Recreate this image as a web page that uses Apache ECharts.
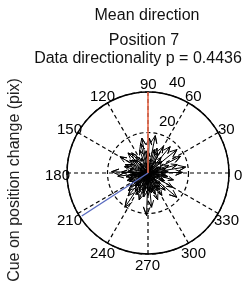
<!DOCTYPE html>
<html>
<head>
<meta charset="utf-8">
<script src="https://cdn.jsdelivr.net/npm/echarts@6/dist/echarts.min.js"></script>
<style>
  html, body { margin: 0; padding: 0; background: #fff; }
  #main { width: 248px; height: 285px; }
</style>
</head>
<body>
<div id="main"></div>
<script>
// compass plot data (angle in degrees, length in pix)
var arrowAngle = [100, 88, 79, 50, 39, 27, 9, 129, 268, 236, 320, 178, 150, 135, 60, 290, 252, 345, 222, 104,
  70, 16, 1, 186, 160, 229, 276, 302, 330, 200,
  5, 20, 40, 50, 65, 75, 88, 95, 110, 125, 135, 145, 155, 165, 175, 190, 195, 205, 215, 225,
  235, 245, 255, 260, 270, 280, 285, 295, 305, 310, 320, 335, 350, 355,
  10, 30, 55, 80, 100, 130, 160, 180, 200, 210, 240, 265, 300, 325, 345,
  2, 14, 24, 44, 58, 92, 114, 140, 168, 178, 184, 192, 212, 232, 248, 262, 282, 312, 338, 352,
  198, 218, 228, 243, 257, 273, 288, 298, 315, 187];
var arrowLen = [17.5, 17.3, 18.8, 17, 18.4, 18, 18.8, 12.8, 21, 20.4, 18.6, 18, 16, 14, 15, 14, 14, 13, 13, 15,
  13, 15, 17, 15, 12, 15, 17, 13, 14, 11,
  10, 11, 9, 10, 11, 12, 10, 11, 12, 10, 9, 11, 10, 12, 10, 11, 9, 10, 8, 9,
  11, 10, 9, 12, 11, 10, 9, 8, 10, 9, 8, 9, 10, 8,
  5, 6, 4, 7, 5, 6, 4, 7, 5, 6, 4, 6, 5, 4, 6,
  8, 9, 7, 8, 7, 9, 8, 10, 9, 13, 8, 7, 9, 8, 7, 8, 9, 7, 8, 9,
  10, 11, 9, 12, 10, 9, 11, 10, 12, 9];
var meanDirection = [[0, 90], [40, 90]];
var secondDirection = [[0, 213], [39, 213]];
var angleTicks = [0, 30, 60, 90, 120, 150, 180, 210, 240, 270, 300, 330];
var rhoTicks = [20, 40];

var FONT = '"Liberation Sans", Arial, sans-serif';

var chart = echarts.init(document.getElementById('main'), null, { renderer: 'canvas' });

function renderArrow(params, api) {
  var ang = api.value(1);
  var o = api.coord([0, ang]);
  var t = api.coord([api.value(0), ang]);
  var dx = t[0] - o[0], dy = t[1] - o[1];
  var bx = t[0] - 0.2 * dx, by = t[1] - 0.2 * dy;
  var px = -dy * 0.08, py = dx * 0.08;
  return {
    type: 'polyline',
    shape: { points: [o, t, [bx + px, by + py], t, [bx - px, by - py]] },
    style: { stroke: '#000', fill: null, lineWidth: 1 }
  };
}

// snap label text to whole pixels so it renders crisp
function snapLabel(params) {
  var r = params.labelRect;
  return { x: Math.round(r.x), y: Math.round(r.y), align: 'left', verticalAlign: 'top' };
}

chart.setOption({
  animation: false,
  polar: { center: [148, 173], radius: 81 },
  angleAxis: {
    type: 'value', min: 0, max: 360, interval: 30,
    startAngle: 0, clockwise: false,
    axisLine: { lineStyle: { color: '#000', width: 1.5 } },
    axisTick: { show: false },
    axisLabel: { show: false },
    splitLine: { show: true, lineStyle: { color: '#000', type: [4, 3], width: 1.2 } }
  },
  radiusAxis: {
    type: 'value', min: 0, max: 40, interval: 20,
    axisLine: { show: false },
    axisTick: { show: false },
    axisLabel: { show: false },
    splitLine: { show: true, lineStyle: { color: '#000', type: [4, 3], width: 1.2 } }
  },
  graphic: [
    { type: 'text', x: 147, y: 16, style: { text: 'Mean direction', font: '16px ' + FONT, fill: '#111', align: 'center', verticalAlign: 'middle' } },
    { type: 'text', x: 144, y: 41, style: { text: 'Position 7', font: '16px ' + FONT, fill: '#111', align: 'center', verticalAlign: 'middle' } },
    { type: 'text', x: 138, y: 59, style: { text: 'Data directionality p = 0.4436', font: '16px ' + FONT, fill: '#111', align: 'center', verticalAlign: 'middle' } },
    { type: 'text', x: 15, y: 180, rotation: Math.PI / 2, style: { text: 'Cue on position change (pix)', font: '16px ' + FONT, fill: '#222', align: 'center', verticalAlign: 'middle' } }
  ],
  series: [
    {
      type: 'custom', coordinateSystem: 'polar',
      renderItem: renderArrow,
      data: arrowLen.map(function (r, i) { return [r, arrowAngle[i]]; }),
      z: 3
    },
    {
      type: 'line', coordinateSystem: 'polar', data: meanDirection,
      symbol: 'none', lineStyle: { color: '#ea6a4c', width: 1.6 }, z: 4
    },
    {
      type: 'line', coordinateSystem: 'polar', data: secondDirection,
      symbol: 'none', lineStyle: { color: '#5a6cc0', width: 1.4 }, z: 4
    },
    {
      // angle tick labels, centred just outside the outer ring
      type: 'scatter', coordinateSystem: 'polar', clip: false, silent: true,
      data: angleTicks.map(function (a) { return [44.5, a]; }),
      symbolSize: 1, itemStyle: { color: 'transparent', opacity: 1 },
      label: {
        show: true, position: 'inside', offset: [0, 2],
        color: '#000', fontSize: 15, fontFamily: FONT,
        formatter: function (p) { return String(p.value[1]); }
      },
      labelLayout: snapLabel,
      z: 5
    },
    {
      // rho tick labels
      type: 'scatter', coordinateSystem: 'polar', clip: false, silent: true,
      data: rhoTicks.map(function (r) { return [r, 76]; }),
      symbolSize: 1, itemStyle: { color: 'transparent', opacity: 1 },
      label: {
        show: true, position: [0, 0], align: 'left', verticalAlign: 'bottom', offset: [2, -4],
        color: '#000', fontSize: 15, fontFamily: FONT,
        formatter: function (p) { return String(p.value[0]); }
      },
      labelLayout: snapLabel,
      z: 5
    }
  ]
});
</script>
</body>
</html>
